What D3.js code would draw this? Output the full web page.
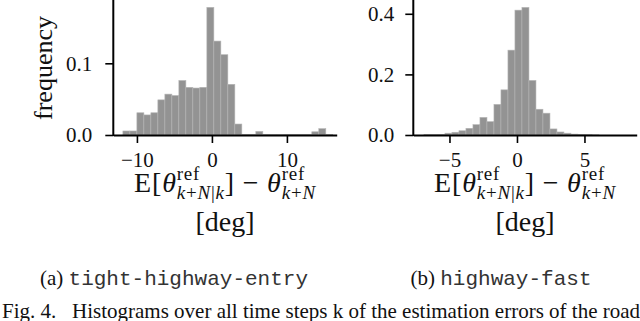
<!DOCTYPE html>
<html>
<head>
<meta charset="utf-8">
<script src="https://cdn.jsdelivr.net/npm/d3@7"></script>
<style>
  body { margin: 0; background: #fff; }
  svg { display: block; }
</style>
</head>
<body>
<div id="body"></div>
<script>
// (a) tight-highway-entry : relative frequency per bin
var leftBinStart = -11.87;
var leftBinWidth = 0.933;
var leftFreq = [0.0056, 0.0056, 0.031, 0.028, 0.031, 0.049, 0.057, 0.055, 0.076, 0.0665,
  0.0655, 0.0665, 0.178, 0.131, 0.112, 0.0707, 0.0153, 0.001, 0.001, 0.005,
  0.001, 0.0005, 0.0005, 0.001, 0.001, 0.001, 0.001, 0.0045, 0.0088, 0.0005];
var leftXTicks = [-10, 0, 10];
var leftYTicks = [0, 0.1];

// (b) highway-fast
var rightBinStart = -6.89;
var rightBinWidth = 0.5185;
var rightFreq = [0.001, 0.001, 0.002, 0.006, 0.009, 0.014, 0.022, 0.034, 0.058, 0.044,
  0.101, 0.149, 0.28, 0.412, 0.421, 0.18, 0.085, 0.072, 0.02, 0.01,
  0.006, 0.003, 0.002, 0.001, 0.0005, 0, 0, 0, 0, 0];
var rightXTicks = [-5, 0, 5];
var rightYTicks = [0, 0.2, 0.4];

var captions = [["(a) ", "tight-highway-entry"], ["(b) ", "highway-fast"]];
var figText = "Fig. 4.\u00a0\u00a0 Histograms over all time steps k of the estimation errors of the road";

var serif = "'Liberation Serif', 'Times New Roman', serif";
var mono = "'Liberation Mono', 'Courier New', monospace";

var svg = d3.select("#body").append("svg")
  .attr("width", 640)
  .attr("height", 321);

// lays out runs of text one after another, sup/sub runs are stacked
function mathLabel(g, cx, y, runs, spacing) {
  var lab = g.append("g");
  var cur = 0, stackStart = 0, stackMax = 0;
  runs.forEach(function (r) {
    var x = r.stack === "sub" ? stackStart : cur;
    var t = lab.append("text")
      .attr("x", x)
      .attr("y", y + (r.dy || 0))
      .attr("font-size", r.size)
      .attr("font-family", serif)
      .attr("letter-spacing", spacing || 0)
      .attr("fill", "#111");
    r.seg.forEach(function (s) {
      t.append("tspan")
        .attr("font-style", s[1] ? "italic" : "normal")
        .attr("font-family", s[2] || serif)
        .attr("fill", s[3] || "#111")
        .text(s[0]);
    });
    var w = t.node().getComputedTextLength();
    if (r.stack === "sup") { stackStart = x; stackMax = x + w; }
    else if (r.stack === "sub") { cur = Math.max(stackMax, x + w); }
    else { cur = x + w; }
  });
  lab.attr("transform", "translate(" + (cx - cur / 2) + ",0)");
}

var xLabelRuns = [
  { seg: [["E[", 0], ["θ", 1]], size: 28 },
  { seg: [["ref", 0]], size: 19, dy: -12, stack: "sup" },
  { seg: [["k", 1], ["+", 0], ["N", 1], ["|", 0], ["k", 1]], size: 19, dy: 7, stack: "sub" },
  { seg: [["]\u00a0−\u00a0", 0], ["θ", 1]], size: 28 },
  { seg: [["ref", 0]], size: 19, dy: -12, stack: "sup" },
  { seg: [["k", 1], ["+", 0], ["N", 1]], size: 19, dy: 7, stack: "sub" }
];

function panel(cfg) {
  var g = svg.append("g");
  var base = 135;
  var xScale = d3.scaleLinear().domain(cfg.xDomain).range([cfg.x0, cfg.x1]);
  var yScale = d3.scaleLinear().domain([0, cfg.yMax]).range([base, 0]);

  var bins = cfg.freq.map(function (f, i) {
    return { a: cfg.start + i * cfg.width, b: cfg.start + (i + 1) * cfg.width, f: f };
  }).filter(function (d) { return d.f > 0; });

  g.selectAll("rect.bar").data(bins).enter().append("rect")
    .attr("class", "bar")
    .attr("x", function (d) { return xScale(d.a); })
    .attr("width", function (d) { return xScale(d.b) - xScale(d.a); })
    .attr("y", function (d) { return yScale(d.f); })
    .attr("height", function (d) { return base - yScale(d.f); })
    .attr("fill", "#939393")
    .attr("stroke", "#b4b4b4")
    .attr("stroke-width", 0.6);

  var xAxis = d3.axisBottom(xScale).tickValues(cfg.xTicks).tickSizeInner(8).tickSizeOuter(0)
    .tickFormat(d3.format("d"));
  var yAxis = d3.axisLeft(yScale).tickValues(cfg.yTicks).tickSizeInner(8).tickSizeOuter(0)
    .tickFormat(d3.format(".1f"));

  var gx = g.append("g").attr("transform", "translate(0," + base + ")").call(xAxis);
  var gy = g.append("g").attr("transform", "translate(" + cfg.x0 + ",0)").call(yAxis);

  [gx, gy].forEach(function (ax) {
    ax.select(".domain").attr("stroke", "#000").attr("stroke-width", 2);
    ax.selectAll(".tick line").attr("stroke", "#000").attr("stroke-width", 1.6);
    ax.selectAll(".tick text")
      .attr("font-family", serif)
      .attr("font-size", 21)
      .attr("fill", "#111");
  });
  gx.selectAll(".tick text").attr("y", 32).attr("dy", 0);
  gy.selectAll(".tick text").attr("x", -cfg.yLabGap).attr("dy", "0.33em");
  // let the y spine run up past the top edge like the cropped figure
  gy.select(".domain").attr("d", "M0," + (base + 1) + "V-5");

  if (cfg.ylabel) {
    g.append("text")
      .attr("transform", "translate(52,68) rotate(-90)")
      .attr("text-anchor", "middle")
      .attr("font-family", serif)
      .attr("font-size", 26)
      .attr("fill", "#111")
      .text(cfg.ylabel);
  }

  var cx = (cfg.x0 + cfg.x1) / 2;
  mathLabel(g, cx, 192, xLabelRuns, 0.8);
  g.append("text")
    .attr("x", cx).attr("y", 231)
    .attr("text-anchor", "middle")
    .attr("font-family", serif)
    .attr("font-size", 28)
    .attr("fill", "#111")
    .text("[deg]");

  mathLabel(g, cfg.capX, 285, [
    { seg: [[cfg.caption[0].replace(" ", "\u00a0"), 0], [cfg.caption[1], 0, mono, "#333"]], size: 21 }
  ]);
}

panel({
  x0: 113.3, x1: 336.7, xDomain: [-13.15, 16.64], yMax: 0.1883,
  start: leftBinStart, width: leftBinWidth, freq: leftFreq,
  xTicks: leftXTicks, yTicks: leftYTicks, yLabGap: 21,
  ylabel: "frequency", caption: captions[0], capX: 174
});

panel({
  x0: 413.3, x1: 636.7, xDomain: [-7.68, 8.87], yMax: 0.4455,
  start: rightBinStart, width: rightBinWidth, freq: rightFreq,
  xTicks: rightXTicks, yTicks: rightYTicks, yLabGap: 19,
  ylabel: null, caption: captions[1], capX: 501
});

svg.append("text")
  .attr("x", 2).attr("y", 318)
  .attr("font-family", serif)
  .attr("font-size", 21)
  .attr("fill", "#111")
  .text(figText);
</script>
</body>
</html>
